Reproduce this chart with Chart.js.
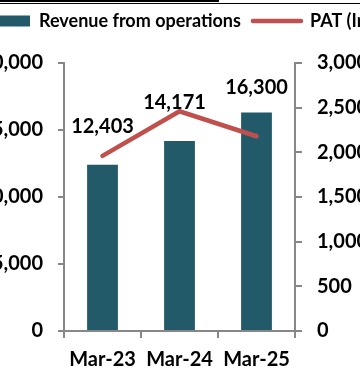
<!DOCTYPE html>
<html>
<head>
<meta charset="utf-8">
<script src="https://cdn.jsdelivr.net/npm/chart.js@4.4.1/dist/chart.umd.min.js"></script>
<style>
  html, body { margin: 0; padding: 0; background: #fff; }
  #wrap { position: relative; width: 360px; height: 373px; overflow: hidden; }
  #chart { position: absolute; left: -30px; top: 0; }
  .rule { position: absolute; left: 0; background: #000; }
</style>
</head>
<body>
<div id="wrap">
  <canvas id="chart" width="480" height="373"></canvas>
  <div class="rule" style="top:0;width:219px;height:2px"></div>
  <div class="rule" style="top:3px;width:360px;height:1px"></div>
</div>
<script>
var categories = ['Mar-23', 'Mar-24', 'Mar-25'];
var revenue = [12403, 14171, 16300];
var pat = [1960, 2460, 2180];
var revenueTicks = [0, 5000, 10000, 15000, 20000];
var patTicks = [0, 500, 1000, 1500, 2000, 2500, 3000];

// nudges for the value labels above the bars
var labelDx = [0, -5, 0];
var labelDy = [38, 39, 25];

var barColor = '#235A69';
var lineColor = '#C0504D';
var axisColor = '#878787';
var fontFamily = 'Lato, "Open Sans", sans-serif';

function fmt(v) { return v.toLocaleString('en-US'); }

var legendGap = {
    id: 'legendGap',
    beforeInit: function(chart) {
        var fit = chart.legend.fit;
        chart.legend.fit = function() {
            fit.bind(chart.legend)();
            this.height += 23;
        };
    }
};

var valueLabels = {
    id: 'valueLabels',
    afterDatasetsDraw: function(chart) {
        var ctx = chart.ctx;
        var meta = chart.getDatasetMeta(0);
        ctx.save();
        ctx.font = 'bold 20px ' + fontFamily;
        ctx.fillStyle = '#000';
        ctx.textAlign = 'center';
        ctx.textBaseline = 'middle';
        meta.data.forEach(function(bar, i) {
            ctx.fillText(fmt(revenue[i]), bar.x + labelDx[i], bar.y - labelDy[i]);
        });
        ctx.restore();
    }
};

var ctx = document.getElementById('chart').getContext('2d');
var chart = new Chart(ctx, {
    data: {
        labels: categories,
        datasets: [{
            type: 'bar',
            label: 'Revenue from operations',
            data: revenue,
            backgroundColor: barColor,
            yAxisID: 'y',
            categoryPercentage: 0.8,
            barPercentage: 0.5,
            order: 2
        }, {
            type: 'line',
            label: 'PAT (In Cr)',
            data: pat,
            borderColor: lineColor,
            borderWidth: 4.5,
            borderCapStyle: 'round',
            pointRadius: 0,
            yAxisID: 'y1',
            order: 1
        }]
    },
    options: {
        responsive: false,
        animation: false,
        layout: { padding: 0 },
        plugins: {
            tooltip: { enabled: false },
            legend: {
                align: 'start',
                labels: {
                    color: '#000',
                    font: { family: fontFamily, size: 18, weight: 'bold' },
                    usePointStyle: true,
                    pointStyleWidth: 48,
                    boxHeight: 11,
                    padding: 12,
                    generateLabels: function() {
                        return [{
                            text: 'Revenue from operations',
                            fillStyle: barColor, strokeStyle: barColor,
                            lineWidth: 0, pointStyle: 'rect', datasetIndex: 0
                        }, {
                            text: 'PAT (In Cr)',
                            fillStyle: lineColor, strokeStyle: lineColor,
                            lineWidth: 4.5, lineCap: 'round', pointStyle: 'line', datasetIndex: 1
                        }];
                    }
                }
            }
        },
        scales: {
            x: {
                offset: true,
                grid: { offset: true, drawOnChartArea: false, tickLength: 7, color: axisColor, lineWidth: 2 },
                border: { color: axisColor, width: 2 },
                ticks: { color: '#000', padding: 10, font: { family: fontFamily, size: 20, weight: 'bold' } },
                afterFit: function(s) { s.height = 42; }
            },
            y: {
                position: 'left',
                min: 0, max: 20000,
                afterBuildTicks: function(s) { s.ticks = revenueTicks.map(function(v) { return { value: v }; }); },
                grid: { drawOnChartArea: false, tickLength: 6, color: axisColor, lineWidth: 2 },
                border: { color: axisColor, width: 2 },
                ticks: { color: '#000', padding: 15, callback: fmt, font: { family: fontFamily, size: 20, weight: 'bold' } },
                afterFit: function(s) { s.width = 94; }
            },
            y1: {
                position: 'right',
                min: 0, max: 3000,
                afterBuildTicks: function(s) { s.ticks = patTicks.map(function(v) { return { value: v }; }); },
                grid: { drawOnChartArea: false, tickLength: 7, color: axisColor, lineWidth: 2 },
                border: { color: axisColor, width: 2 },
                ticks: { color: '#000', padding: 15, callback: fmt, font: { family: fontFamily, size: 20, weight: 'bold' } },
                afterFit: function(s) { s.width = 155; }
            }
        }
    },
    plugins: [legendGap, valueLabels]
});
</script>
</body>
</html>
